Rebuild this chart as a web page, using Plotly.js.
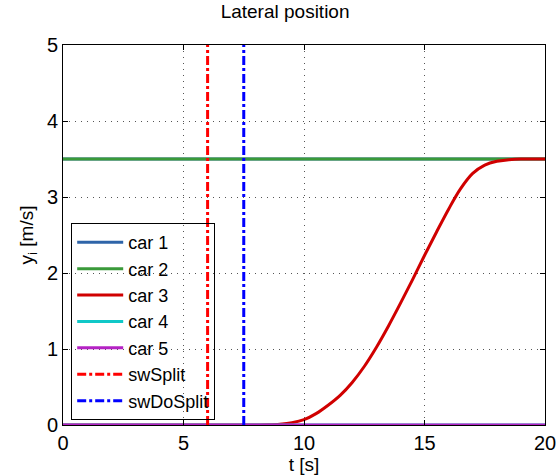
<!DOCTYPE html>
<html><head><meta charset="utf-8">
<script src="https://cdn.plot.ly/plotly-3.0.1.min.js"></script>
<style>body{margin:0;background:#fff}#c{width:559px;height:475px}</style>
</head><body><div id="c"></div>
<script>
const tFlat = [0, 20];
const car1 = [3.5, 3.5];
const car2 = [3.5, 3.5];
const car4 = [0, 0];
const car5 = [0, 0];
const t3 = [0, 8, 8.5, 9, 9.5, 10, 10.5, 11, 11.5, 12, 12.5, 13, 13.5, 14, 14.5, 15, 15.5, 16, 16.5, 17, 17.5, 18, 18.5, 19, 20];
const car3 = [0, 0, 0.002, 0.01, 0.03, 0.07, 0.15, 0.26, 0.39, 0.56, 0.77, 1.02, 1.30, 1.60, 1.91, 2.23, 2.54, 2.84, 3.11, 3.31, 3.42, 3.47, 3.49, 3.5, 3.5];
const swSplitT = 6;
const swDoSplitT = 7.5;
const yRange = [0, 5];

const F = 'Liberation Sans, Arial, sans-serif';
const traces = [
  {x: tFlat, y: car1, name: 'car 1', mode: 'lines', line: {color: '#2e64a8', width: 3}},
  {x: tFlat, y: car2, name: 'car 2', mode: 'lines', line: {color: '#3a9a3a', width: 3}},
  {x: t3, y: car3, name: 'car 3', mode: 'lines', line: {color: '#d00000', width: 3, shape: 'spline', smoothing: 1}},
  {x: tFlat, y: car4, name: 'car 4', mode: 'lines', line: {color: '#10c8c8', width: 3}},
  {x: tFlat, y: car5, name: 'car 5', mode: 'lines', line: {color: '#b422c4', width: 3}},
  {x: [swSplitT, swSplitT], y: yRange, name: 'swSplit', mode: 'lines', line: {color: '#ff0000', width: 3, dash: 'dashdot'}},
  {x: [swDoSplitT, swDoSplitT], y: yRange, name: 'swDoSplit', mode: 'lines', line: {color: '#0000ff', width: 3, dash: 'dashdot'}}
];
const ax = {
  showline: true, linecolor: '#000', linewidth: 1, mirror: 'ticks',
  ticks: 'inside', ticklen: 5, tickcolor: '#000',
  showgrid: true, gridcolor: '#555', griddash: '1px,5px', gridwidth: 1,
  zeroline: false, tickfont: {family: F, size: 20, color: '#000'}
};
const layout = {
  width: 559, height: 475,
  margin: {l: 63, r: 14, t: 45, b: 50},
  paper_bgcolor: '#fff', plot_bgcolor: '#fff',
  title: {text: 'Lateral position', font: {family: F, size: 19, color: '#000'}, x: 0.51, xanchor: 'center', y: 0.99, yanchor: 'top'},
  xaxis: Object.assign({}, ax, {range: [0, 20], tickvals: [0, 5, 10, 15, 20], title: {text: 't [s]', font: {family: F, size: 19, color: '#000'}, standoff: 2}}),
  yaxis: Object.assign({}, ax, {range: [0, 5], tickvals: [0, 1, 2, 3, 4, 5], title: {text: 'y<sub>i</sub> [m/s]', font: {family: F, size: 19, color: '#000'}, standoff: 8}}),
  showlegend: true,
  legend: {x: 0.017, y: 0.013, xanchor: 'left', yanchor: 'bottom', bgcolor: 'rgba(0,0,0,0)', bordercolor: '#000', borderwidth: 1,
    font: {family: F, size: 18, color: '#000'}, tracegroupgap: 0, itemwidth: 46}
};
Plotly.newPlot('c', traces, layout, {displayModeBar: false, staticPlot: true});
</script></body></html>
